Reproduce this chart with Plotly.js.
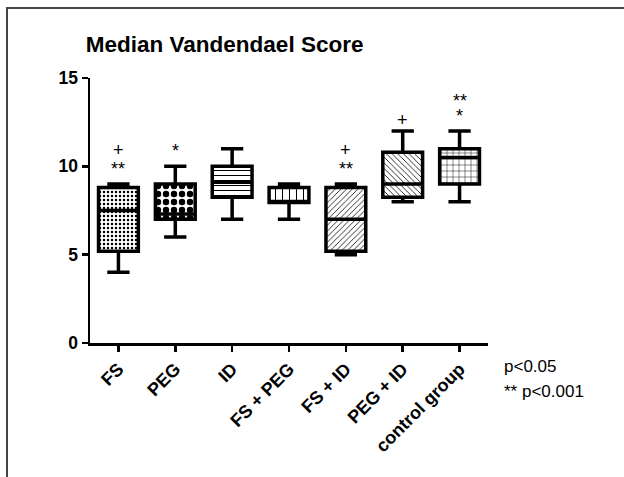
<!DOCTYPE html>
<html>
<head>
<meta charset="utf-8">
<script src="https://cdn.plot.ly/plotly-3.0.1.min.js"></script>
<style>
body{margin:0;background:#fff}
#wrap{position:relative;width:624px;height:477px;overflow:hidden}
#chart{width:624px;height:477px}
#frame{position:absolute;left:6px;top:7px;width:640px;height:500px;border-left:2px solid #444;border-top:2px solid #444;pointer-events:none}
</style>
</head>
<body>
<div id="wrap"><div id="chart"></div><div id="frame"></div></div>
<script>
// ---- data ----
const categories = ["FS", "PEG", "ID", "FS + PEG", "FS + ID", "PEG + ID", "control group"];
const minVals    = [4,   6,   7,    7,    5,   8,    8];
const q1Vals     = [5.2, 7,   8.25, 7.95, 5.2, 8.25, 9];
const medianVals = [7.5, 7.3, 9.1,  8,    7,   9,    10.5];
const q3Vals     = [8.8, 9,   10,   8.8,  8.8, 10.8, 11];
const maxVals    = [9,   10,  11,   9,    9,   12,   12];
const sigLower   = ["**", "*", "", "", "**", "+", "*"];
const sigUpper   = ["+",  "",  "", "", "+",  "",  "**"];
const yTicks     = [0, 5, 10, 15];
const legendNotes = ["p<0.05", "** p<0.001"];

// ---- styles ----
const patternShapes = [".", ".", "-", "|", "/", "\\", "+"];
const patternSizes  = [4, 8, 5, 7, 4, 4, 6];
const patternSolid  = [0.3, 0.5, 0.2, 0.15, 0.2, 0.2, 0.15];
const FONT = "Arial, 'Liberation Sans', sans-serif";

const boxHeights = q3Vals.map((v, i) => v - q1Vals[i]);

const bodies = {
  type: "bar",
  x: categories,
  y: boxHeights,
  base: q1Vals,
  width: 0.7,
  marker: {
    color: "white",
    line: {width: 0},
    pattern: {
      shape: patternShapes,
      size: patternSizes,
      solidity: patternSolid,
      fgcolor: "black",
      bgcolor: "white",
      fillmode: "replace"
    }
  },
  hoverinfo: "skip",
  showlegend: false
};

const boxes = {
  type: "box",
  x: categories,
  q1: q1Vals,
  median: medianVals,
  q3: q3Vals,
  lowerfence: minVals,
  upperfence: maxVals,
  width: 0.7,
  whiskerwidth: 0.56,
  fillcolor: "rgba(0,0,0,0)",
  line: {color: "black", width: 3.5},
  boxpoints: false,
  showlegend: false
};

const annotations = [];
function addSig(c, yv, txt, shift) {
  annotations.push({
    x: c, y: yv, xref: "x", yref: "y",
    text: txt, showarrow: false,
    yanchor: "middle", yshift: shift,
    font: {family: FONT, size: 18, color: "#000000"}
  });
}
categories.forEach((c, i) => {
  if (sigLower[i]) addSig(c, maxVals[i], sigLower[i], sigLower[i] === "+" ? 11 : 15);
  if (sigUpper[i]) addSig(c, maxVals[i], sigUpper[i], sigUpper[i] === "+" ? 34 : 30);
});
annotations.push({
  xref: "paper", yref: "paper", x: 1.035, y: -0.089,
  xanchor: "left", yanchor: "middle", showarrow: false,
  text: legendNotes[0], font: {family: FONT, size: 17, color: "black"}
});
annotations.push({
  xref: "paper", yref: "paper", x: 1.035, y: -0.184,
  xanchor: "left", yanchor: "middle", showarrow: false,
  text: legendNotes[1], font: {family: FONT, size: 17, color: "black"}
});

const layout = {
  width: 624, height: 477,
  paper_bgcolor: "white", plot_bgcolor: "white",
  margin: {l: 90, r: 136, t: 78, b: 134},
  barmode: "overlay",
  title: {
    text: "Median Vandendael Score",
    x: 0.36, xref: "container", xanchor: "center",
    y: 0.908, yref: "container", yanchor: "middle",
    font: {family: FONT, size: 22.5, weight: 700, color: "black"}
  },
  xaxis: {
    type: "category",
    range: [-0.5, 6.5],
    showline: true, linecolor: "black", linewidth: 2.5,
    ticks: "outside", ticklen: 6, tickwidth: 2.5, tickcolor: "black",
    tickangle: -45,
    showgrid: false, zeroline: false,
    tickfont: {family: FONT, size: 18, weight: 700, color: "black"}
  },
  yaxis: {
    range: [0, 15],
    tickvals: yTicks,
    showline: true, linecolor: "black", linewidth: 2.5,
    ticks: "outside", ticklen: 6, tickwidth: 2.5, tickcolor: "black",
    showgrid: false, zeroline: false,
    tickfont: {family: FONT, size: 17.5, weight: 700, color: "black"}
  },
  annotations: annotations,
  showlegend: false
};

Plotly.newPlot("chart", [bodies, boxes], layout, {displayModeBar: false, staticPlot: true});
</script>
</body>
</html>
